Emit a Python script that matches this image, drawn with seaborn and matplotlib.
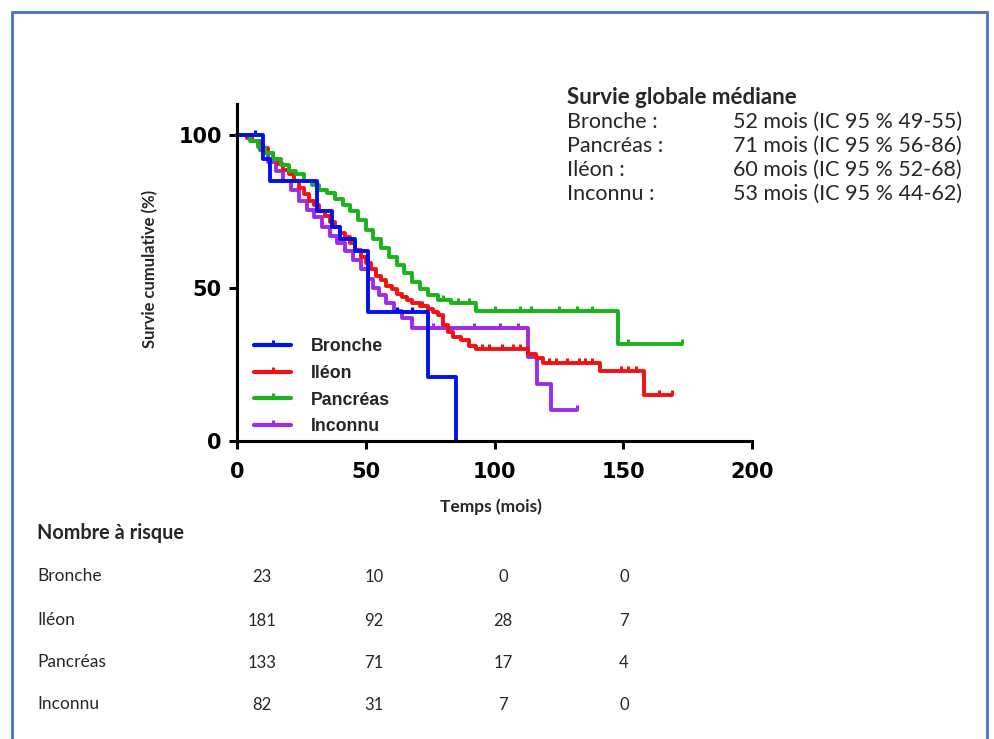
import pandas as pd
import seaborn as sns
import matplotlib.pyplot as plt
import numpy as np
from matplotlib.lines import Line2D
from matplotlib.patches import Rectangle

# Kaplan-Meier steps (time in months, survival in %)
bronche_t = [0, 10, 13, 31, 37, 40, 46, 51, 74, 85]
bronche_s = [100, 92, 85, 75, 70, 66, 62, 42, 21, 0]
bronche_end = 85
bronche_cens = [7, 62, 68]

ileon_t = [0, 4, 6, 8, 10, 12, 14, 16, 18, 20, 22, 24, 26, 28, 30, 32, 34, 36, 38, 40,
           42, 44, 46, 48, 50, 52, 54, 56, 58, 60, 62, 64, 66, 68, 71, 74, 76, 78, 80,
           82, 84, 87, 90, 93, 113, 116, 119, 141, 158]
ileon_s = [100, 99, 98, 97, 95.5, 94, 92, 90.5, 88.5, 87, 85, 82.5, 80.5, 78.5, 77, 75,
           73.5, 71.5, 70, 68, 66.5, 64.5, 62.5, 60, 58, 56, 54, 52.5, 50.5, 49.5, 48, 47,
           46, 45, 44, 43, 42, 41, 38, 35.5, 34, 33, 31, 30, 28.5, 27, 25.5, 23, 15]
ileon_end = 169
ileon_cens = [72, 95, 98, 103, 107, 110, 121, 124, 128, 133, 135, 138, 149, 152, 155, 164, 169]

pancreas_t = [0, 5, 8, 11, 14, 17, 20, 23, 26, 29, 32, 35, 38, 41, 44, 47, 50, 53, 56, 59,
              62, 65, 68, 71, 74, 78, 83, 93, 148]
pancreas_s = [100, 98, 96, 94, 92, 90, 88, 87, 85, 83.5, 82, 81, 79, 77, 75, 72, 69, 66,
              63, 60, 57.5, 55, 52, 49.5, 47.5, 46, 45, 42.5, 31.5]
pancreas_end = 173
pancreas_cens = [80, 86, 90, 100, 110, 114, 125, 132, 138, 152, 173]

inconnu_t = [0, 6, 9, 12, 15, 18, 21, 24, 27, 30, 33, 36, 39, 42, 45, 48, 51, 53, 55, 58,
             61, 64, 68, 113, 116.5, 122]
inconnu_s = [100, 98, 95, 91, 88, 85, 82, 78.5, 75.5, 73, 70, 67, 64.5, 62, 59, 56, 53,
             50, 47.5, 45, 42.5, 40, 37, 27.5, 18.5, 10]
inconnu_end = 132
inconnu_cens = [76, 92, 102, 109, 132]

groups = ["Bronche", "Iléon", "Pancréas", "Inconnu"]
colors = {"Bronche": "#0010F0", "Iléon": "#F51010", "Pancréas": "#18B418", "Inconnu": "#9E2BE8"}

# median survival text
median_labels = ["Bronche :", "Pancréas :", "Iléon :", "Inconnu :"]
median_values = ["52 mois (IC 95 % 49-55)", "71 mois (IC 95 % 56-86)",
                 "60 mois (IC 95 % 52-68)", "53 mois (IC 95 % 44-62)"]

# number at risk
risk_groups = ["Bronche", "Iléon", "Pancréas", "Inconnu"]
risk_bronche = [23, 10, 0, 0]
risk_ileon = [181, 92, 28, 7]
risk_pancreas = [133, 71, 17, 4]
risk_inconnu = [82, 31, 7, 0]

series = {
    "Bronche": (bronche_t, bronche_s, bronche_end, bronche_cens),
    "Iléon": (ileon_t, ileon_s, ileon_end, ileon_cens),
    "Pancréas": (pancreas_t, pancreas_s, pancreas_end, pancreas_cens),
    "Inconnu": (inconnu_t, inconnu_s, inconnu_end, inconnu_cens),
}

rows = []
for g, (t, s, end, _) in series.items():
    for ti, si in zip(t, s):
        rows.append((g, ti, si))
    rows.append((g, end, s[-1]))
df = pd.DataFrame(rows, columns=["site", "temps", "survie"])

sns.set_style("white")
plt.rcParams['font.family'] = ['Liberation Sans', 'DejaVu Sans']
calib = ["Lato", "DejaVu Sans"]

W, H = 994, 739
fig = plt.figure(figsize=(W / 100, H / 100), dpi=100)

def fx(px):
    return px / W

def fy(py):
    return 1 - py / H

ax = fig.add_axes([fx(237), fy(441), fx(752) - fx(237), fy(104) - fy(441)])

# draw order: purple under, then red, green, blue on top
for g in ["Inconnu", "Iléon", "Pancréas", "Bronche"]:
    sub = df[df.site == g]
    sns.lineplot(data=sub, x="temps", y="survie", color=colors[g], drawstyle="steps-post",
                 estimator=None, sort=False, lw=2.8, ax=ax, legend=False, clip_on=False)
    t, s, end, cens = series[g]
    cy = [s[np.searchsorted(t, c, side="right") - 1] for c in cens]
    ax.plot(cens, cy, ls="none", marker=2, ms=3.5, mew=2.2, color=colors[g], clip_on=False)

ax.set_xlim(0, 200)
ax.set_ylim(0, 110)
ax.set_xticks([0, 50, 100, 150, 200])
ax.set_yticks([0, 50, 100])
sns.despine(ax=ax)
for sp in ["left", "bottom"]:
    ax.spines[sp].set_linewidth(2.2)
    ax.spines[sp].set_color("black")
ax.tick_params(axis="both", direction="out", length=6, width=2.2, colors="black",
               left=True, bottom=True)
ax.tick_params(axis="x", pad=9)
ax.tick_params(axis="y", pad=5)
for lab in ax.get_xticklabels() + ax.get_yticklabels():
    lab.set_fontweight("bold")
    lab.set_fontsize(15)
    lab.set_family(["DejaVu Sans"])
ax.set_xlabel("")
ax.set_ylabel("")

fig.text(fx(150), fy(269), "Survie cumulative (%)", rotation=90, ha="center", va="center",
         fontsize=12, fontweight="bold", family=calib)
fig.text(fx(491), fy(507), "Temps (mois)", ha="center", va="center",
         fontsize=12.5, fontweight="bold", family=calib)

handles = [Line2D([0], [0], color=colors[g], lw=3, marker=2, ms=3.5, mew=2.2) for g in groups]
ax.legend(handles, groups, loc="upper left", bbox_to_anchor=(fx(254), fy(338)),
          bbox_transform=fig.transFigure, frameon=False, borderpad=0, borderaxespad=0,
          handlelength=2.1, handletextpad=1.1, labelspacing=0.55, numpoints=1,
          prop={"weight": "bold", "size": 12.8})

# median survival block
fig.text(fx(567), fy(97), "Survie globale médiane", ha="left", va="center",
         fontsize=16, fontweight="bold", family=calib)
for i, (lab, val) in enumerate(zip(median_labels, median_values)):
    y = 122 + 24 * i
    fig.text(fx(567), fy(y), lab, ha="left", va="center", fontsize=15.5, family=calib)
    fig.text(fx(733), fy(y), val, ha="left", va="center", fontsize=15.5, family=calib)

# number at risk table
fig.text(fx(37), fy(533), "Nombre à risque", ha="left", va="center",
         fontsize=14.3, fontweight="bold", family=calib)
risk_vals = [risk_bronche, risk_ileon, risk_pancreas, risk_inconnu]
col_x = [262, 374, 503, 624]
row_y = [576, 620, 662, 704]
for lab, vals, y in zip(risk_groups, risk_vals, row_y):
    fig.text(fx(37), fy(y), lab, ha="left", va="center", fontsize=12.5, family=calib)
    for v, x in zip(vals, col_x):
        fig.text(fx(x), fy(y + 1), str(v), ha="center", va="center", fontsize=12,
                 family=calib)

# blue frame
fig.patches.append(Rectangle((fx(12), -0.1), fx(987) - fx(12), fy(12) + 0.1,
                             transform=fig.transFigure, fill=False, edgecolor="#4472C4",
                             lw=2, clip_on=False))

fig.savefig("out.png", dpi=100)
